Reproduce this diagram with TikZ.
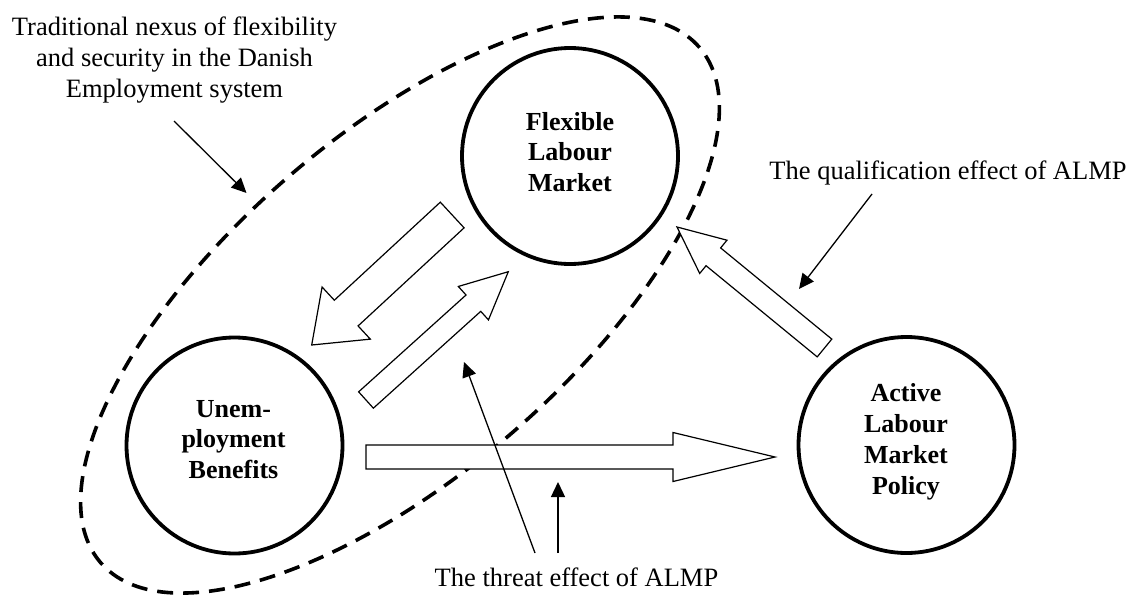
\documentclass[tikz,border=0pt]{standalone}
\usepackage{fontspec}
\setmainfont{Liberation Serif}
\usetikzlibrary{calc,arrows.meta}
% #1 name, #2 start, #3 tip, #4 half shaft, #5 half head, #6 head length
\newcommand{\blockarrow}[6]{%
  \coordinate (#1-h) at ($(#3)!#6!(#2)$);
  \draw[blockarr] ($(#2)!#4!90:(#3)$) -- ($(#1-h)!#4!90:(#3)$) -- ($(#1-h)!#5!90:(#3)$)
    -- (#3) -- ($(#1-h)!#5!-90:(#3)$) -- ($(#1-h)!#4!-90:(#3)$) -- ($(#2)!#4!-90:(#3)$) -- cycle;
}
\begin{document}
\begin{tikzpicture}[x=1pt,y=-1pt,
  circ/.style={circle, draw, line width=3.8pt, minimum size=216pt, inner sep=0pt},
  lbl/.style={align=center, font=\bfseries\fontsize{26}{30.7}\selectfont, inner sep=0pt},
  txt/.style={align=center, font=\fontsize{26.5}{31}\selectfont, inner sep=0pt},
  blockarr/.style={draw, fill=white, line width=1.2pt, line join=miter},
  pointer/.style={line width=1.3pt, -{Triangle[length=15pt,width=14pt]}},
  nexus/.style={draw, dash pattern=on 16pt off 10pt, line width=3.6pt}]
\useasboundingbox (0,0) rectangle (1134,594);
% dashed nexus ellipse
\coordinate (ec) at (400,305);
\draw[nexus, rotate around={40.7:(ec)}] (ec) ellipse [x radius=395pt, y radius=170pt];
% circles
\node[circ] (flex) at (570,156) {};
\node[circ] (unemp) at (234.5,445.5) {};
\node[circ] (active) at (906.5,445) {};
\node[lbl] (flexT) at (570,151.9) {Flexible\\Labour\\Market};
\node[lbl] (unempT) at (233.5,439.4) {Unem-\\ployment\\Benefits};
\node[lbl] (activeT) at (906,441.8) {Active\\Labour\\Market\\Policy};
% block arrows
\coordinate (a1s) at (452.2,215);   \coordinate (a1e) at (311.7,345);
\coordinate (a2s) at (366,400);     \coordinate (a2e) at (508.3,271.7);
\coordinate (a3s) at (824.5,348);   \coordinate (a3e) at (677,227);
\coordinate (a4s) at (366,457);     \coordinate (a4e) at (775,457);
\blockarrow{a1}{a1s}{a1e}{17.5pt}{35.5pt}{47pt}
\blockarrow{a2}{a2s}{a2e}{11pt}{22.5pt}{47pt}
\blockarrow{a3}{a3s}{a3e}{11.5pt}{21.5pt}{47pt}
\blockarrow{a4}{a4s}{a4e}{12pt}{24.5pt}{102pt}
% texts
\node[txt] (tradT) at (174.5,59.9) {Traditional nexus of flexibility\\and security in the Danish\\Employment system};
\node[txt, anchor=base] (qualT) at (948,179.3) {The qualification effect of ALMP};
\node[txt, anchor=base] (threatT) at (576.5,586.7) {The threat effect of ALMP};
% pointers
\coordinate (p1s) at (174,121);  \coordinate (p1e) at (246.5,193);
\coordinate (p2s) at (872,194);  \coordinate (p2e) at (799,289);
\coordinate (p3s) at (535,553);  \coordinate (p3e) at (464,362);
\coordinate (p4s) at (558,553);  \coordinate (p4e) at (558,482);
\draw[pointer] (p1s) -- (p1e);
\draw[pointer] (p2s) -- (p2e);
\draw[pointer] (p3s) -- (p3e);
\draw[pointer] (p4s) -- (p4e);
\end{tikzpicture}
\end{document}
